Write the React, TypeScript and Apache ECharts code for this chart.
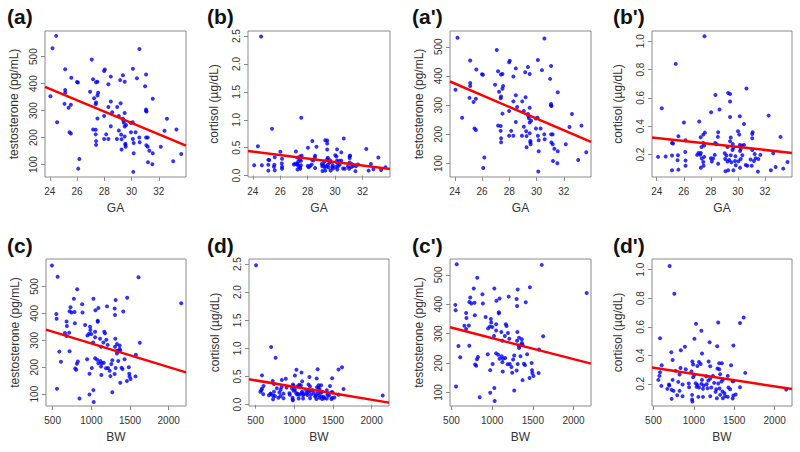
import React, { useEffect, useRef } from "react";
import * as echarts from "echarts";

// ---------- data ----------
// testosterone (pg/mL) vs GA (weeks), without the high outlier
const gaTestosterone: number[][] = [
  [24.2,531],[30.58,528],[27.08,489],[25.13,453],[28.04,452],[27.99,447],[30.1,455],[25.58,422],[28.48,426],[27.18,416],
  [27.5,407],[27.4,405],[26.0,406],[26.07,404],[29.17,413],[29.37,431],[29.5,407],[30.4,420],[31.07,434],[28.3,398],
  [31.0,390],[26.96,370],[27.55,366],[27.5,356],[27.25,346],[24.05,353],[25.13,376],[25.13,366],[25.08,325],[25.55,322],
  [25.38,311],[27.4,330],[27.37,324],[28.48,334],[29.2,327],[31.56,344],[28.3,313],[28.95,313],[31.07,304],[31.07,299],
  [31.1,297],[24.54,257],[27.5,271],[27.99,280],[28.58,294],[29.07,280],[29.5,291],[29.37,270],[29.4,263],[29.44,255],
  [29.6,247],[29.5,241],[29.96,254],[30.08,257],[32.6,270],[28.48,242],[25.45,220],[25.55,215],[27.18,230],[27.37,229],
  [28.14,212],[29.07,226],[29.24,211],[29.96,220],[30.3,220],[29.5,204],[30.57,200],[31.07,200],[31.19,200],[32.42,225],
  [33.3,230],[27.37,212],[27.4,187],[27.4,173],[27.99,195],[28.3,195],[28.93,195],[29.27,194],[29.55,177],[29.55,173],
  [29.57,166],[30.1,195],[30.16,180],[30.6,183],[31.09,172],[31.19,166],[31.31,151],[32.15,166],[29.27,156],[30.16,142],
  [31.56,142],[26.17,121],[26.09,85],[30.13,73],[31.21,109],[31.53,101],[33.06,112],[33.65,139]
];
const gaTestosteroneOutlier: number[][] = [[24.47, 577]];

// cortisol (µg/dL) vs GA, without the high outlier
const gaCortisol: number[][] = [
  [27.53,1.035],[25.4,0.84],[24.37,0.527],[30.63,0.666],[29.28,0.635],[29.42,0.628],[28.34,0.621],[29.42,0.574],[28.64,0.518],[28.02,0.499],
  [29.42,0.466],[30.14,0.47],[32.27,0.475],[26.01,0.426],[27.14,0.433],[30.45,0.416],[30.01,0.365],[30.1,0.341],[28.54,0.358],[31.09,0.358],
  [31.06,0.346],[27.56,0.355],[27.44,0.341],[33.15,0.325],[25.6,0.329],[28.52,0.325],[27.25,0.322],[31.06,0.315],[29.47,0.32],[26.13,0.301],
  [25.13,0.282],[25.2,0.278],[27.44,0.282],[28.32,0.282],[28.42,0.273],[29.42,0.294],[29.62,0.275],[30.14,0.268],[30.45,0.268],[29.67,0.249],
  [30.3,0.264],[27.51,0.264],[27.31,0.254],[29.23,0.254],[27.09,0.212],[26.11,0.219],[27.26,0.212],[29.6,0.233],[30.16,0.226],[31.06,0.233],
  [30.21,0.24],[25.13,0.193],[24.1,0.184],[24.66,0.186],[25.57,0.195],[26.99,0.198],[27.21,0.198],[27.51,0.184],[29.03,0.209],[29.47,0.195],
  [29.15,0.193],[29.82,0.188],[30.33,0.195],[31.24,0.205],[32.61,0.209],[28.29,0.198],[25.54,0.16],[26.13,0.158],[27.33,0.172],[28.17,0.172],
  [28.0,0.174],[29.06,0.169],[29.35,0.162],[29.79,0.155],[30.21,0.169],[30.94,0.165],[31.31,0.174],[31.51,0.169],[31.66,0.198],[27.44,0.148],
  [28.07,0.151],[29.23,0.151],[29.52,0.146],[30.04,0.153],[31.19,0.155],[33.67,0.148],[26.13,0.122],[27.46,0.122],[28.54,0.136],[29.84,0.125],
  [30.16,0.108],[30.58,0.127],[30.7,0.122],[31.02,0.122],[25.13,0.089],[25.6,0.094],[27.26,0.108],[29.08,0.082],[29.28,0.089],[29.67,0.089],
  [31.48,0.08],[32.44,0.089],[32.79,0.113],[33.35,0.101]
];
const gaCortisolOutlier: number[][] = [[24.6, 2.49]];

// testosterone (pg/mL) vs BW (g), without the high outlier
const bwTestosterone: number[][] = [
  [564,536],[1610,534],[2162,438],[817,490],[774,454],[1027,454],[1314,450],[1464,458],[881,434],[731,423],
  [719,408],[744,403],[783,405],[886,403],[1053,412],[1091,420],[1203,426],[1306,394],[1301,418],[1413,407],
  [547,398],[551,380],[680,370],[684,353],[787,363],[920,357],[984,350],[988,338],[1083,373],[1083,369],
  [971,324],[1001,323],[1049,332],[1168,332],[1177,326],[1194,302],[1310,306],[950,318],[1049,311],[659,327],
  [714,328],[680,316],[1023,292],[1113,306],[1156,292],[1211,283],[1126,276],[1331,286],[1365,281],[1365,268],
  [1374,262],[1344,260],[1306,276],[1327,260],[1331,251],[1627,291],[1576,246],[586,258],[719,259],[607,220],
  [826,221],[813,213],[791,195],[804,191],[946,230],[1049,233],[1074,228],[1117,223],[1091,215],[1134,215],
  [1160,217],[1216,197],[1271,226],[1258,212],[1348,223],[1430,230],[1006,197],[1126,203],[1190,196],[1237,187],
  [1314,197],[1391,198],[1404,193],[1485,200],[1130,171],[976,176],[1301,175],[1490,176],[1494,166],[1507,156],
  [1571,166],[1246,167],[1374,142],[1460,149],[556,120],[1027,115],[1271,107],[976,99],[847,84],[1031,71]
];
const bwTestosteroneOutlier: number[][] = [[491, 578]];

// cortisol (µg/dL) vs BW (g), without the high outlier
const bwCortisol: number[][] = [
  [700,1.026],[758,0.832],[1616,0.665],[1571,0.626],[1301,0.63],[1027,0.621],[1093,0.572],[582,0.52],[1007,0.516],[1195,0.492],
  [1489,0.469],[1289,0.464],[721,0.422],[1101,0.413],[890,0.46],[839,0.436],[737,0.368],[602,0.331],[982,0.357],[991,0.336],
  [1064,0.354],[1085,0.34],[1044,0.326],[1183,0.357],[1203,0.324],[1314,0.345],[1347,0.345],[1461,0.331],[1636,0.277],[835,0.312],
  [900,0.303],[582,0.282],[574,0.256],[561,0.228],[598,0.186],[692,0.195],[696,0.188],[774,0.291],[823,0.265],[970,0.287],
  [1007,0.263],[1293,0.308],[1314,0.303],[1236,0.256],[1326,0.268],[1154,0.254],[1101,0.228],[1179,0.223],[1203,0.237],[1359,0.23],
  [1420,0.256],[991,0.247],[737,0.228],[807,0.214],[860,0.195],[937,0.202],[1023,0.205],[1044,0.193],[1093,0.2],[1122,0.188],
  [1158,0.198],[1252,0.207],[1302,0.202],[1342,0.216],[1481,0.219],[1493,0.221],[1571,0.177],[2143,0.16],[725,0.158],[749,0.151],
  [823,0.151],[941,0.177],[1035,0.179],[1064,0.174],[1113,0.165],[1170,0.17],[1216,0.174],[1277,0.163],[1318,0.167],[1355,0.146],
  [1428,0.174],[1449,0.163],[672,0.165],[860,0.113],[794,0.12],[978,0.123],[1056,0.109],[1113,0.109],[1203,0.113],[1269,0.144],
  [1326,0.123],[1379,0.135],[1388,0.113],[1489,0.118],[1518,0.125],[725,0.095],[978,0.09],[982,0.076],[1285,0.099],[1359,0.099],
  [1420,0.109],[1481,0.097]
];
const bwCortisolOutlier: number[][] = [[505, 2.48]];

// fitted regression lines (end points)
const fitA: number[][] = [[23.65, 388], [34.0, 170.5]];
const fitB: number[][] = [[23.65, 0.44], [34.0, 0.12]];
const fitA2: number[][] = [[23.65, 381], [34.0, 174]];
const fitB2: number[][] = [[23.65, 0.32], [34.0, 0.212]];
const fitC: number[][] = [[414, 339.7], [2224, 180.8]];
const fitD: number[][] = [[414, 0.45], [2224, 0.035]];
const fitC2: number[][] = [[482, 322], [2215, 198]];
const fitD2: number[][] = [[482, 0.315], [2215, 0.164]];

// tick values
const gaTicks = [24, 26, 28, 30, 32];
const bwTicks = [500, 1000, 1500, 2000];
const testoTicks = [100, 200, 300, 400, 500];
const cortisolTicksWide = [0, 0.5, 1.0, 1.5, 2.0, 2.5];
const cortisolTicksNarrow = [0.2, 0.4, 0.6, 0.8, 1.0];

const TESTO = "testosterone (pg/mL)";
const CORT = "cortisol (\u00b5g/dL)";

const FONT = "'Liberation Sans', Arial, Helvetica, sans-serif";
const BOX = "#8a8a8a";
const TXT = "#333333";

type Panel = {
  tag: string; tagX: number; tagY: number;
  rect: number[]; xr: number[]; yr: number[];
  xTicks: number[]; yTicks: number[]; yDec: number;
  xName: string; yName: string; yGap: number;
  pts: number[][]; fit: number[][];
};

const panels: Panel[] = [
  { tag: "(a)", tagX: 7, tagY: 6, rect: [45, 31, 141, 146], xr: [23.65, 34.0], yr: [54, 595], xTicks: gaTicks, yTicks: testoTicks, yDec: 0, xName: "GA", yName: TESTO, yGap: 25, pts: [...gaTestosterone, ...gaTestosteroneOutlier], fit: fitA },
  { tag: "(b)", tagX: 207, tagY: 6, rect: [248, 31, 142, 146], xr: [23.65, 34.0], yr: [-0.025, 2.59], xTicks: gaTicks, yTicks: cortisolTicksWide, yDec: 1, xName: "GA", yName: CORT, yGap: 28, pts: [...gaCortisol, ...gaCortisolOutlier], fit: fitB },
  { tag: "(a')", tagX: 412, tagY: 6, rect: [450, 31, 141, 146], xr: [23.65, 34.0], yr: [54, 554], xTicks: gaTicks, yTicks: testoTicks, yDec: 0, xName: "GA", yName: TESTO, yGap: 25, pts: gaTestosterone, fit: fitA2 },
  { tag: "(b')", tagX: 613, tagY: 6, rect: [652, 31, 140, 146], xr: [23.65, 34.0], yr: [0.042, 1.072], xTicks: gaTicks, yTicks: cortisolTicksNarrow, yDec: 1, xName: "GA", yName: CORT, yGap: 28, pts: gaCortisol, fit: fitB2 },
  { tag: "(c)", tagX: 7, tagY: 235, rect: [46, 259, 140, 147], xr: [414, 2224], yr: [56, 602], xTicks: bwTicks, yTicks: testoTicks, yDec: 0, xName: "BW", yName: TESTO, yGap: 25, pts: [...bwTestosterone, ...bwTestosteroneOutlier], fit: fitC },
  { tag: "(d)", tagX: 207, tagY: 235, rect: [249, 259, 140, 147], xr: [414, 2224], yr: [-0.025, 2.59], xTicks: bwTicks, yTicks: cortisolTicksWide, yDec: 1, xName: "BW", yName: CORT, yGap: 28, pts: [...bwCortisol, ...bwCortisolOutlier], fit: fitD },
  { tag: "(c')", tagX: 412, tagY: 235, rect: [450, 259, 141, 147], xr: [482, 2215], yr: [54, 554], xTicks: bwTicks, yTicks: testoTicks, yDec: 0, xName: "BW", yName: TESTO, yGap: 25, pts: bwTestosterone, fit: fitC2 },
  { tag: "(d')", tagX: 613, tagY: 235, rect: [652, 259, 140, 147], xr: [482, 2215], yr: [0.045, 1.075], xTicks: bwTicks, yTicks: cortisolTicksNarrow, yDec: 1, xName: "BW", yName: CORT, yGap: 28, pts: bwCortisol, fit: fitD2 },
];

export default function App() {
  const ref = useRef<HTMLDivElement>(null);
  useEffect(() => {
    if (!ref.current) return;
    const chart = echarts.init(ref.current, undefined, { renderer: "svg" });
    const grid = panels.map((p) => ({
      left: p.rect[0], top: p.rect[1], width: p.rect[2], height: p.rect[3],
      show: true, borderColor: BOX, borderWidth: 1, backgroundColor: "transparent",
    }));
    const xAxis = panels.map((p, i) => ({
      type: "value", gridIndex: i, min: p.xr[0], max: p.xr[1],
      name: p.xName, nameLocation: "middle", nameGap: 25,
      nameTextStyle: { fontSize: 12, color: TXT, fontFamily: FONT },
      axisLine: { show: false },
      axisTick: { show: true, length: 4, customValues: p.xTicks, lineStyle: { color: BOX, width: 1 } },
      axisLabel: { customValues: p.xTicks, fontSize: 10, color: TXT, fontFamily: FONT, margin: 9, formatter: (v: number) => String(v) },
      splitLine: { show: false },
    }));
    const yAxis = panels.map((p, i) => ({
      type: "value", gridIndex: i, min: p.yr[0], max: p.yr[1],
      name: p.yName, nameLocation: "middle", nameGap: p.yGap,
      nameTextStyle: { fontSize: 12, color: TXT, fontFamily: FONT },
      axisLine: { show: false },
      axisTick: { show: true, length: 4, customValues: p.yTicks, lineStyle: { color: BOX, width: 1 } },
      axisLabel: { customValues: p.yTicks, rotate: 90, fontSize: 10, color: TXT, fontFamily: FONT, margin: 7, formatter: (v: number) => v.toFixed(p.yDec) },
      splitLine: { show: false },
    }));
    const series: any[] = [];
    panels.forEach((p, i) => {
      series.push({
        type: "scatter", xAxisIndex: i, yAxisIndex: i, data: p.pts,
        symbol: "circle", symbolSize: 4, itemStyle: { color: "#0000ff" }, silent: true,
      });
      series.push({
        type: "line", xAxisIndex: i, yAxisIndex: i, data: p.fit, symbol: "none",
        lineStyle: { color: "#ff0000", width: 2.5 }, silent: true,
      });
    });
    const graphic = panels.map((p) => ({
      type: "text", left: p.tagX, top: p.tagY,
      style: { text: p.tag, font: `bold 21px ${FONT}`, fill: "#111111" },
    }));
    chart.setOption({
      animation: false,
      backgroundColor: "#ffffff",
      grid, xAxis, yAxis, series, graphic,
    });
    return () => chart.dispose();
  }, []);
  return <div ref={ref} style={{ position: "absolute", left: 0, top: 0, width: 800, height: 452 }} />;
}
